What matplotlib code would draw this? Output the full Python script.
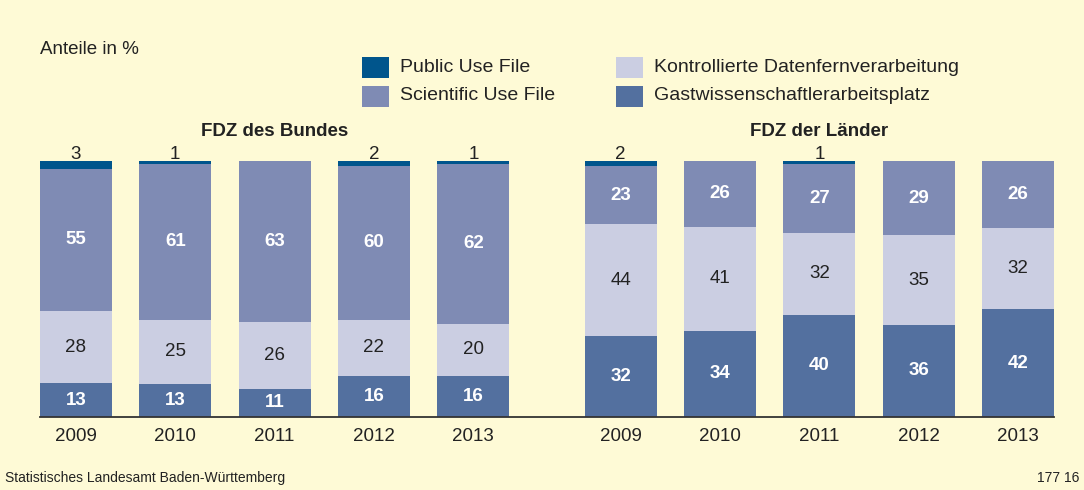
import matplotlib
matplotlib.use("Agg")
import matplotlib.pyplot as plt
from matplotlib.patches import Rectangle
import numpy as np

plt.rcParams['font.family'] = ['Liberation Sans', 'DejaVu Sans']

years = ["2009", "2010", "2011", "2012", "2013"]
groups = ["FDZ des Bundes", "FDZ der Länder"]
series_names = ["Public Use File", "Scientific Use File",
                "Kontrollierte Datenfernverarbeitung", "Gastwissenschaftlerarbeitsplatz"]

# Bundes
bund_gwap = [13, 13, 11, 16, 16]
bund_kdfv = [28, 25, 26, 22, 20]
bund_suf = [55, 61, 63, 60, 62]
bund_puf = [3, 1, 0, 2, 1]
# Länder
land_gwap = [32, 34, 40, 36, 42]
land_kdfv = [44, 41, 32, 35, 32]
land_suf = [23, 26, 27, 29, 26]
land_puf = [2, 0, 1, 0, 0]

bg = "#FEFAD6"
c_puf = "#00558C"
c_suf = "#7F8BB4"
c_kdfv = "#CBCEE2"
c_gwap = "#53709F"
txt = "#222222"
fs = 13.5

W, H = 1084, 490
fig = plt.figure(figsize=(W / 100, H / 100), dpi=100, facecolor=bg)

ax_left, ax_right = 40, 1054
ax_bottom, ax_top = 417, 161
ax = fig.add_axes([ax_left / W, (H - ax_bottom) / H, (ax_right - ax_left) / W, (ax_bottom - ax_top) / H])
ax.set_facecolor(bg)

gap = 5.483
bw = 0.724
pos_b = np.arange(5, dtype=float)
pos_l = np.arange(5, dtype=float) + gap

def draw_group(pos, gw, kd, su, pu):
    gw = np.array(gw, float); kd = np.array(kd, float)
    su = np.array(su, float); pu = np.array(pu, float)
    tot = gw + kd + su + pu
    g, k, s, p = gw / tot * 100, kd / tot * 100, su / tot * 100, pu / tot * 100
    ax.bar(pos, g, bw, color=c_gwap, linewidth=0)
    ax.bar(pos, k, bw, bottom=g, color=c_kdfv, linewidth=0)
    ax.bar(pos, s, bw, bottom=g + k, color=c_suf, linewidth=0)
    ax.bar(pos, p, bw, bottom=g + k + s, color=c_puf, linewidth=0)
    for i, x in enumerate(pos):
        ax.text(x, g[i] / 2, f"{int(gw[i])}", ha="center", va="center",
                color="white", fontsize=fs, fontweight="bold")
        ax.text(x, g[i] + k[i] / 2, f"{int(kd[i])}", ha="center", va="center",
                color=txt, fontsize=fs)
        ax.text(x, g[i] + k[i] + s[i] / 2, f"{int(su[i])}", ha="center", va="center",
                color="white", fontsize=fs, fontweight="bold")
        if pu[i] > 0:
            ax.text(x, 99.4, f"{int(pu[i])}", ha="center",
                    va="bottom", color=txt, fontsize=fs)

draw_group(pos_b, bund_gwap, bund_kdfv, bund_suf, bund_puf)
draw_group(pos_l, land_gwap, land_kdfv, land_suf, land_puf)

ax.set_xlim(pos_b[0] - bw / 2, pos_l[-1] + bw / 2)
ax.set_ylim(0, 100)
ax.set_xticks(np.concatenate([pos_b, pos_l]))
ax.set_xticklabels(years + years, fontsize=fs, color=txt)
ax.tick_params(axis="x", length=0, pad=8)
ax.set_yticks([])
for s in ["top", "right", "left"]:
    ax.spines[s].set_visible(False)
ax.spines["bottom"].set_color("#333333")
ax.spines["bottom"].set_linewidth(1.3)

# Group titles
for pos, name in ((pos_b, groups[0]), (pos_l, groups[1])):
    ax.text(np.mean(pos), 1.0 + 30 / (ax_bottom - ax_top), name, transform=ax.get_xaxis_transform(),
            ha="center", va="center", fontsize=fs, fontweight="bold", color=txt)

def fx(px):
    return px / W

def fy(py):
    return (H - py) / H

fig.text(fx(40), fy(50), "Anteile in %", ha="left", va="center", fontsize=fs, color=txt)

# Legend
leg = [
    (series_names[0], c_puf, 362, 68),
    (series_names[1], c_suf, 362, 96),
    (series_names[2], c_kdfv, 616, 68),
    (series_names[3], c_gwap, 616, 96),
]
for name, col, x0, yc in leg:
    fig.patches.append(Rectangle((fx(x0), fy(yc + 10.5)), 27 / W, 21 / H, transform=fig.transFigure,
                                 facecolor=col, edgecolor="none"))
    fig.text(fx(x0 + 38), fy(yc), name, ha="left", va="center", fontsize=fs + 0.5, color=txt)

fig.text(fx(5), fy(478), "Statistisches Landesamt Baden-Württemberg", ha="left", va="center",
         fontsize=10, color=txt)
fig.text(fx(1079), fy(478), "177 16", ha="right", va="center", fontsize=10, color=txt)

fig.savefig("out.png", dpi=100, facecolor=bg)
